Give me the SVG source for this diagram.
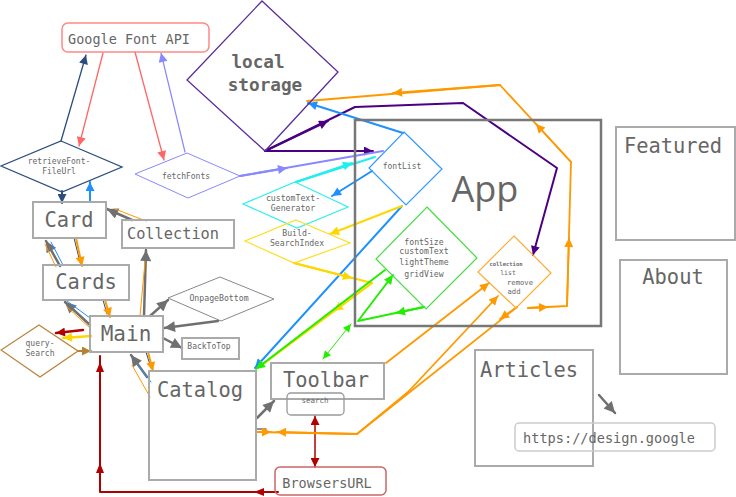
<svg xmlns="http://www.w3.org/2000/svg" width="736" height="497" viewBox="0 0 736 497">
<style>
.box{fill:none;stroke:#aaa;stroke-width:2}
.t{font-family:"DejaVu Sans Mono","Liberation Mono",monospace;fill:#666;text-anchor:middle}
.big{font-size:20.4px}
.sm{font-size:8px}
.c{fill:none;stroke-linecap:round;stroke-linejoin:round}
.gray{stroke:#707070;stroke-width:2.5}
.or{stroke:#ff9900;stroke-width:1.8}
.pu{stroke:#4b0082;stroke-width:2}
.bl{stroke:#1e90ff;stroke-width:2}
.lp{stroke:#8888ff;stroke-width:2}
.cy{stroke:#22eeee;stroke-width:2}
.ye{stroke:#ffd700;stroke-width:2}
.gr{stroke:#22ee00;stroke-width:2}
.rd{stroke:#b00000;stroke-width:2}
.br{stroke:#b5832e;stroke-width:2}
.db{stroke:#2b4c7e;stroke-width:1.3}
.sa{stroke:#ff6666;stroke-width:1.3}
.thin{stroke-width:1}
</style>
<defs>
<marker id="mg" viewBox="0 0 10 10" refX="10" refY="5" markerUnits="userSpaceOnUse" markerWidth="13" markerHeight="11" orient="auto"><path d="M0,0L10,5L0,10z" fill="#707070"/></marker>
<marker id="mo" viewBox="0 0 10 10" refX="10" refY="5" markerUnits="userSpaceOnUse" markerWidth="11" markerHeight="9" orient="auto"><path d="M0,0L10,5L0,10z" fill="#ff9900"/></marker>
<marker id="mp" viewBox="0 0 10 10" refX="10" refY="5" markerUnits="userSpaceOnUse" markerWidth="11" markerHeight="9" orient="auto"><path d="M0,0L10,5L0,10z" fill="#4b0082"/></marker>
<marker id="mb" viewBox="0 0 10 10" refX="10" refY="5" markerUnits="userSpaceOnUse" markerWidth="11" markerHeight="9" orient="auto"><path d="M0,0L10,5L0,10z" fill="#1e90ff"/></marker>
<marker id="ml" viewBox="0 0 10 10" refX="10" refY="5" markerUnits="userSpaceOnUse" markerWidth="11" markerHeight="9" orient="auto"><path d="M0,0L10,5L0,10z" fill="#8888ff"/></marker>
<marker id="mc" viewBox="0 0 10 10" refX="10" refY="5" markerUnits="userSpaceOnUse" markerWidth="11" markerHeight="9" orient="auto"><path d="M0,0L10,5L0,10z" fill="#22eeee"/></marker>
<marker id="my" viewBox="0 0 10 10" refX="10" refY="5" markerUnits="userSpaceOnUse" markerWidth="11" markerHeight="9" orient="auto"><path d="M0,0L10,5L0,10z" fill="#ffd700"/></marker>
<marker id="mn" viewBox="0 0 10 10" refX="10" refY="5" markerUnits="userSpaceOnUse" markerWidth="11" markerHeight="9" orient="auto"><path d="M0,0L10,5L0,10z" fill="#22ee00"/></marker>
<marker id="mn2" viewBox="0 0 10 10" refX="10" refY="5" markerUnits="userSpaceOnUse" markerWidth="9" markerHeight="8" orient="auto-start-reverse"><path d="M0,0L10,5L0,10z" fill="#22ee00"/></marker>
<marker id="mr" viewBox="0 0 10 10" refX="10" refY="5" markerUnits="userSpaceOnUse" markerWidth="11" markerHeight="9" orient="auto-start-reverse"><path d="M0,0L10,5L0,10z" fill="#b00000"/></marker>
<marker id="mw" viewBox="0 0 10 10" refX="10" refY="5" markerUnits="userSpaceOnUse" markerWidth="11" markerHeight="9" orient="auto"><path d="M0,0L10,5L0,10z" fill="#b5832e"/></marker>
<marker id="md" viewBox="0 0 10 10" refX="10" refY="5" markerUnits="userSpaceOnUse" markerWidth="11" markerHeight="9" orient="auto"><path d="M0,0L10,5L0,10z" fill="#2b4c7e"/></marker>
<marker id="ms" viewBox="0 0 10 10" refX="10" refY="5" markerUnits="userSpaceOnUse" markerWidth="11" markerHeight="9" orient="auto"><path d="M0,0L10,5L0,10z" fill="#ff6666"/></marker>
</defs>

<g id="connectors">
<!-- Google Font API links -->
<path class="c db" d="M61,141L86,55" marker-end="url(#md)"/>
<path class="c sa" d="M103,53L79,146" marker-end="url(#ms)"/>
<path class="c sa" d="M135,52L164,160" marker-end="url(#ms)"/>
<path class="c lp" style="stroke-width:1.2" d="M185,152L161,53" marker-end="url(#ml)"/>
<!-- retrieveFont / Card -->
<path class="c db" style="stroke-width:2" d="M62,191L62,203" marker-end="url(#md)"/>
<path class="c bl" d="M90,202L90,182" marker-end="url(#mb)"/>
<!-- Collection -> Card -->
<path class="c gray" d="M132,220L107,209" marker-end="url(#mg)"/>
<path class="c or thin" d="M146,221L115,209"/>
<!-- Card <-> Cards -->
<path class="c db thin" d="M74,238L80,262"/>
<path class="c or" style="stroke-width:2" d="M76,238L82,266" marker-end="url(#mo)"/>
<path class="c gray" d="M60,266L46,241" marker-end="url(#mg)"/>
<path class="c or thin" d="M56,267L45,244"/>
<path class="c bl thin" d="M63,265L51,242"/>
<!-- Cards <-> Main -->
<path class="c db thin" d="M103,300L107,314"/>
<path class="c or" style="stroke-width:2" d="M105,300L110,317" marker-end="url(#mo)"/>
<path class="c gray" d="M90,325L65,302" marker-end="url(#mg)"/>
<path class="c bl thin" d="M90,318L67,301"/>
<path class="c or thin" d="M90,328L67,307"/>
<!-- Main -> Collection -->
<path class="c gray" d="M144,316L146,250" marker-end="url(#mg)"/>
<path class="c or thin" d="M140,316L145,262"/>
<!-- Main / OnpageBottom / BackToTop -->
<path class="c gray" d="M150,316L168,300" marker-end="url(#mg)"/>
<path class="c gray" d="M218,321L164,328" marker-end="url(#mg)"/>
<path class="c gray" d="M163,338L182,348" marker-end="url(#mg)"/>
<!-- Main / query-Search -->
<path class="c rd" style="stroke-width:2.5" d="M83,330L56,333" marker-end="url(#mr)"/>
<path class="c ye" style="stroke-width:2.5" d="M91,336L63,338" marker-end="url(#my)"/>
<path class="c br" d="M78,351L91,351" marker-end="url(#mw)"/>
<!-- Main <-> Catalog -->
<path class="c db thin" d="M146,352L151,368"/>
<path class="c or" style="stroke-width:2" d="M148,352L153,371" marker-end="url(#mo)"/>
<path class="c gray" d="M147,377L131,355" marker-end="url(#mg)"/>
<path class="c bl thin" d="M151,382L137,364"/>
<path class="c or thin" d="M150,397L132,365"/>
<!-- BrowsersURL -> Main -->
<path class="c rd" d="M278,492L100,492L100,356"/>
<polygon points="254,492 264,488 264,496" fill="#b00000"/>
<polygon points="100,463 96,473 104,473" fill="#b00000"/>
<polygon points="100,362 96,372 104,372" fill="#b00000"/>
<!-- search <-> BrowsersURL -->
<path class="c rd" style="stroke-width:1.5" d="M315,416L315,467" marker-start="url(#mr)" marker-end="url(#mr)"/>
<!-- Catalog -> Toolbar -->
<path class="c gray" d="M257,418L274,401" marker-end="url(#mg)"/>
<path class="c gray" style="stroke-width:1.5" d="M257,429L266,429"/>
<!-- orange Catalog/Toolbar <-> collection -->
<path class="c or" d="M257,432L357,434L408,392L498,296" marker-end="url(#mo)"/>
<path class="c or" d="M258,432L271,432" marker-end="url(#mo)"/>
<path class="c or" d="M517,307L357,434L277,432" marker-end="url(#mo)"/>
<path class="c or" d="M517,307L500,319" marker-end="url(#mo)"/>
<path class="c or" d="M386,363L489,283" marker-end="url(#mo)"/>
<!-- collection -> local storage -->
<path class="c or" d="M528,308L567,306L571,162L500,85L307,101"/>
<path class="c or" d="M528,308L548,307" marker-end="url(#mo)"/>
<path class="c or" d="M567,306L569,238" marker-end="url(#mo)"/>
<path class="c or" d="M571,162L536,124" marker-end="url(#mo)"/>
<path class="c or" d="M500,85L393,93" marker-end="url(#mo)"/>
<!-- purple from local storage -->
<path class="c pu" d="M265,151L373,151" marker-end="url(#mp)"/>
<path class="c pu" d="M265,151L355,107L463,103L557,168L533,255" marker-end="url(#mp)"/>
<path class="c pu" d="M265,151L328,121" marker-end="url(#mp)"/>
<!-- blue from fontList -->
<path class="c bl" d="M403,133L308,103" marker-end="url(#mb)"/>
<path class="c bl" d="M372,171L332,196" marker-end="url(#mb)"/>
<path class="c bl" d="M402,206L255,368" marker-end="url(#mb)"/>
<!-- fetchFonts -> fontList -->
<path class="c lp" d="M240,176L383,151"/>
<path class="c lp" d="M240,176L287,168" marker-end="url(#ml)"/>
<!-- customText-Generator -> fontList -->
<path class="c cy" d="M296,182L375,157"/>
<path class="c cy" d="M296,182L352,163" marker-end="url(#mc)"/>
<!-- yellow -->
<path class="c ye" d="M402,206L330,234" marker-end="url(#my)"/>
<path class="c ye" d="M294,263L372,283L258,368"/>
<path class="c ye" d="M294,263L352,278" marker-end="url(#my)"/>
<path class="c ye" d="M372,283L334,311" marker-end="url(#my)"/>
<!-- green -->
<path class="c gr" d="M385,270L256,369" marker-end="url(#mn)"/>
<path class="c gr" d="M424,307L358,321L393,275" marker-end="url(#mn)"/>
<path class="c gr" d="M424,307L396,313" marker-end="url(#mn)"/>
<path class="c gr" style="stroke-width:1" d="M351,324L323,359" marker-start="url(#mn2)" marker-end="url(#mn2)"/>
<!-- Articles -> link -->
<path class="c gray" d="M599,395L615,413" marker-end="url(#mg)"/>
</g>

<g id="google-font-api"><rect x="62" y="23" width="147" height="29" rx="6" fill="none" stroke="#ff8888" stroke-width="1.5"/><text class="t" x="129" y="44" font-size="13.5">Google Font API</text></g>
<g id="local-storage"><polygon points="262,1 338,72 265,151 187,80" fill="none" stroke="#5a2d9c" stroke-width="1.3"/><text class="t" x="258" y="68" font-size="17.7" font-weight="bold">local</text><text class="t" x="265" y="91" font-size="17.7" font-weight="bold">storage</text></g>
<g id="retrieve-font"><polygon points="61,141 122,167 62,192 1,166" fill="none" stroke="#2e4e7e" stroke-width="1.3"/><text class="t sm" x="59" y="164">retrieveFont-</text><text class="t sm" x="59" y="174">FileUrl</text></g>
<g id="fetch-fonts"><polygon points="187,153 240,176 188,198 135,174" fill="none" stroke="#8888ff" stroke-width="1"/><text class="t sm" x="186" y="179">fetchFonts</text></g>
<g id="card"><rect class="box" x="33" y="202" width="73" height="36"/><text class="t big" x="69" y="227">Card</text></g>
<g id="collection"><rect class="box" x="122" y="220" width="112" height="28"/><text class="t" x="173" y="239" font-size="15.3">Collection</text></g>
<g id="cards"><rect class="box" x="43" y="265" width="86" height="35"/><text class="t big" x="86" y="289">Cards</text></g>
<g id="main"><rect class="box" x="90" y="316" width="73" height="36"/><text class="t" x="126" y="341" font-size="21">Main</text></g>
<g id="onpage-bottom"><polygon points="220,277 274,299 221,321 168,298" fill="none" stroke="#888" stroke-width="1"/><text class="t" x="219" y="301" font-size="8.2">OnpageBottom</text></g>
<g id="back-to-top"><rect class="box" x="182" y="338" width="57" height="21" stroke-width="1.5"/><text class="t sm" x="209" y="349">BackToTop</text></g>
<g id="query-search"><polygon points="39,325 78,351 40,377 1,350" fill="none" stroke="#b8843c" stroke-width="1.3"/><text class="t sm" x="40" y="346">query-</text><text class="t sm" x="40" y="356">Search</text></g>
<g id="catalog"><rect class="box" x="149" y="371" width="107" height="109"/><text class="t big" x="200" y="397">Catalog</text></g>
<g id="toolbar"><rect class="box" x="271" y="363" width="113" height="36"/><text class="t big" x="326" y="387">Toolbar</text></g>
<g id="search"><rect x="287" y="393" width="57" height="22" rx="4" fill="none" stroke="#999" stroke-width="1.3"/><text class="t" x="315" y="403" font-size="7.5">search</text></g>
<g id="browsers-url"><rect x="275" y="467" width="111" height="28" rx="5" fill="none" stroke="#cc6666" stroke-width="1.5"/><text class="t" x="327" y="488" font-size="13.5">BrowsersURL</text></g>
<g id="app"><rect x="355" y="120" width="246" height="206" fill="none" stroke="#777" stroke-width="2.5"/><text x="485" y="202" font-family="'Open Sans','DejaVu Sans',sans-serif" font-size="36" fill="#666" text-anchor="middle">App</text></g>
<g id="font-list"><polygon points="404,132 442,169 406,205 369,168" fill="none" stroke="#3399ff" stroke-width="1.2"/><text class="t sm" x="402" y="169">fontList</text></g>
<g id="settings"><polygon points="427,207 477,258 426,309 376,259" fill="none" stroke="#44dd44" stroke-width="1.2"/><text class="t" x="424" y="245" font-size="8.2">fontSize</text><text class="t" x="424" y="254" font-size="8.2">customText</text><text class="t" x="424" y="265" font-size="8.2">lightTheme</text><text class="t" x="424" y="277" font-size="8.2">gridView</text></g>
<g id="collection-state"><polygon points="514,236 551,273 516,308 478,272" fill="none" stroke="#ffaa33" stroke-width="1.2"/><text class="t" x="506" y="266" font-size="5.5" font-weight="bold" fill="#777">collection</text><text class="t" x="508" y="275" font-size="6.5" fill="#999">list</text><text class="t" x="520" y="285" font-size="7.2">remove</text><text class="t" x="514" y="294" font-size="7.2">add</text></g>
<g id="custom-text-generator"><polygon points="295,182 348,207 297,228 243,204" fill="none" stroke="#33eeee" stroke-width="1.2"/><text class="t" x="293" y="201" font-size="8.2">customText-</text><text class="t" x="293" y="211" font-size="8.2">Generator</text></g>
<g id="build-search-index"><polygon points="296,220 350,243 294,263 245,241" fill="none" stroke="#ffdd22" stroke-width="1.2"/><text class="t" x="297" y="236" font-size="8.2">Build-</text><text class="t" x="297" y="246" font-size="8.2">SearchIndex</text></g>
<g id="featured"><rect class="box" x="616" y="127" width="119" height="113"/><text class="t big" x="673" y="153">Featured</text></g>
<g id="about"><rect class="box" x="620" y="260" width="107" height="114"/><text class="t big" x="673" y="284">About</text></g>
<g id="articles"><rect class="box" x="475" y="350" width="118" height="116"/><text class="t big" x="529" y="377">Articles</text></g>
<g id="design-link"><rect x="515" y="423" width="200" height="28" rx="4" fill="none" stroke="#ccc" stroke-width="1.5"/><text class="t" x="609" y="443" font-size="13.6">https://design.google</text></g>
</svg>
